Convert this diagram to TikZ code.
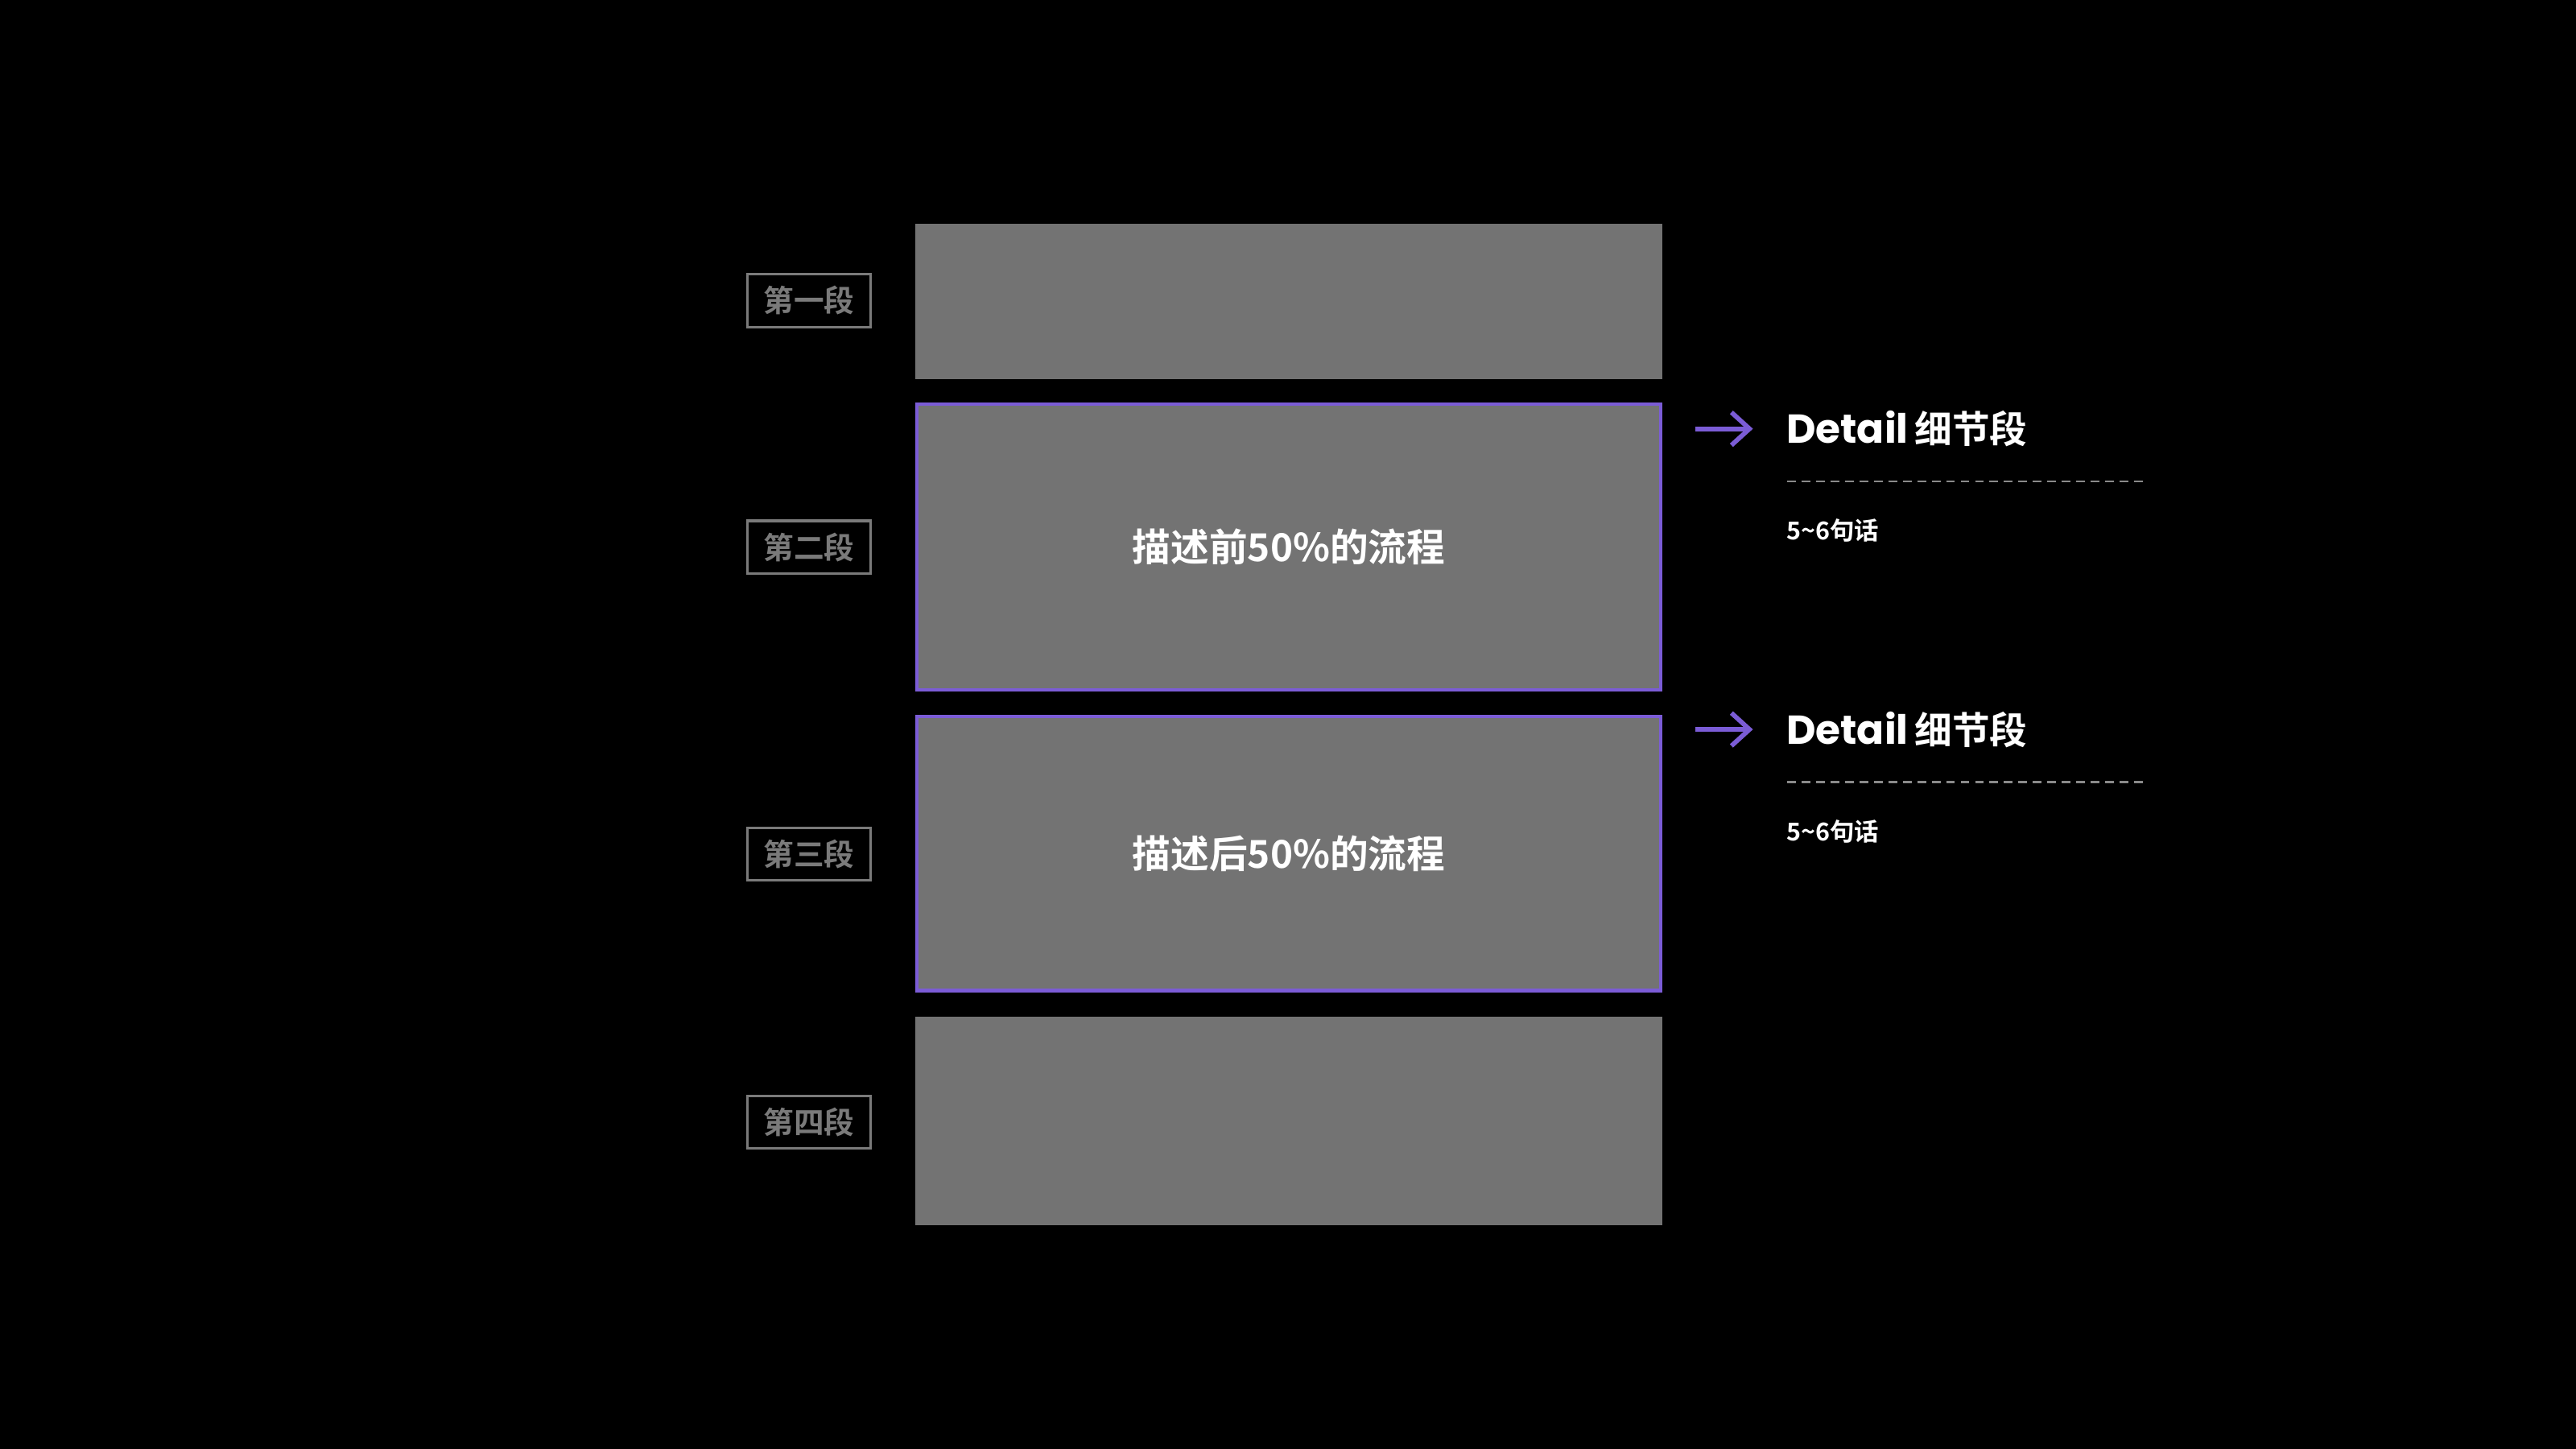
\documentclass[tikz,border=0pt]{standalone}
\usepackage{fontspec}
\setmainfont{Noto Sans CJK SC}[BoldFont={* Bold}]
\newfontfamily\latinfont{Poppins}[BoldFont={* Bold}]
\usetikzlibrary{arrows.meta, positioning}

\definecolor{panelgray}{HTML}{737373}
\definecolor{tagray}{HTML}{7A7A7A}
\definecolor{accent}{HTML}{7B5CD6}
\definecolor{rulegray}{HTML}{8A8A8A}

\begin{document}
\begin{tikzpicture}[
  x=0.2mm, y=-0.2mm,
  panel/.style = {fill=panelgray, draw=none, inner sep=0pt},
  focus/.style = {panel, draw=accent, line width=1.2pt},
  tag/.style = {draw=tagray, line width=0.9pt, text=tagray, font=\bfseries\fontsize{10.5}{12}\selectfont,
                minimum width=15mm, minimum height=6.4mm, inner sep=0pt},
  arrow/.style = {accent, line width=1.6pt, -{Straight Barb[length=2.2mm, width=4mm]}}
]
  \fill[black] (0,0) rectangle (1568,882);

  % Stacked panels
  \node[panel, minimum width=91mm, minimum height=19mm] (p1) at (784.5,183.5) {};
  \node[focus, minimum width=90.6mm, minimum height=34.8mm] (p2) at (784.5,333) {};
  \node[focus, minimum width=90.6mm, minimum height=33.4mm] (p3) at (784.5,519.5) {};
  \node[panel, minimum width=91mm, minimum height=25.4mm] (p4) at (784.5,682.5) {};

  \node[text=white, font=\bfseries\fontsize{13.3}{16}\selectfont] at (p2) {描述前50\%的流程};
  \node[text=white, font=\bfseries\fontsize{13.3}{16}\selectfont] at (p3) {描述后50\%的流程};

  % Section tags
  \node[tag] (t1) at (492.5,183) {第一段};
  \node[tag] (t2) at (492.5,333) {第二段};
  \node[tag] (t3) at (492.5,520) {第三段};
  \node[tag] (t4) at (492.5,683) {第四段};

  % Detail notes
  \foreach \n/\yy in {a/261, b/444} {
    \coordinate (s\n) at (1032,\yy);
    \coordinate (e\n) at (1067,\yy);
    \draw[arrow] (s\n) -- (e\n);
    \node[anchor=west, inner sep=0pt, text=white] (d\n) at (1087,\yy)
      {{\latinfont\bfseries\fontsize{14}{16}\selectfont Detail} {\bfseries\fontsize{13}{16}\selectfont 细节段}};
    \coordinate (l\n) at (1088,\yy+32);
    \coordinate (r\n) at (1307,\yy+32);
    \draw[rulegray, line width=0.6pt, dash pattern=on 3pt off 2pt] (l\n) -- (r\n);
    \node[anchor=west, inner sep=0pt, text=white, font=\bfseries\fontsize{8.5}{10}\selectfont]
      at (1087,\yy+62) {5\textasciitilde6句话};
  }
\end{tikzpicture}
\end{document}
